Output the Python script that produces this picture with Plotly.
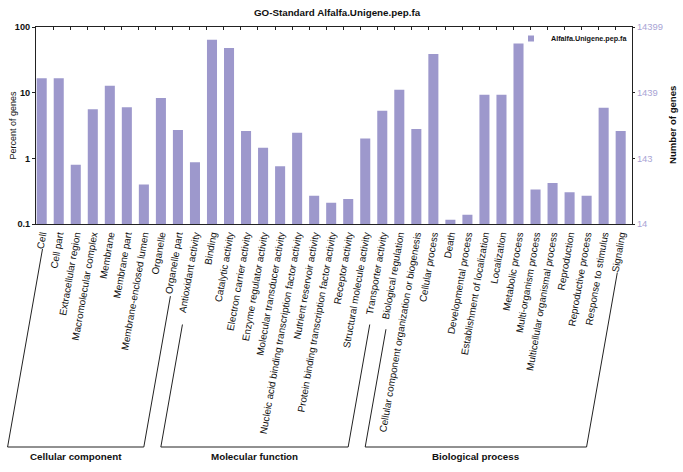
import math
import plotly.graph_objects as go

# ---------------- data ----------------
categories = [
    "Cell", "Cell part", "Extracellular region", "Macromolecular complex", "Membrane",
    "Membrane part", "Membrane-enclosed lumen", "Organelle", "Organelle part",
    "Antioxidant activity", "Binding", "Catalytic activity", "Electron carrier activity",
    "Enzyme regulator activity", "Molecular transducer activity",
    "Nucleic acid binding transcription factor activity", "Nutrient reservoir activity",
    "Protein binding transcription factor activity", "Receptor activity",
    "Structural molecule activity", "Transporter activity",
    "Biological regulation", "Cellular component organization or biogenesis",
    "Cellular process", "Death", "Developmental process", "Establishment of localization",
    "Localization", "Metabolic process", "Multi-organism process",
    "Multicellular organismal process", "Reproduction", "Reproductive process",
    "Response to stimulus", "Signaling",
]
percent_of_genes = [
    16.6, 16.6, 0.80, 5.6, 12.7, 6.0, 0.40, 8.3, 2.7,
    0.87, 64.0, 48.0, 2.6, 1.45, 0.76, 2.45, 0.27, 0.21, 0.24, 2.0, 5.3,
    11.1, 2.8, 38.8, 0.116, 0.138, 9.3, 9.3, 56.0, 0.335, 0.42, 0.305, 0.27, 5.9, 2.6,
]
group_names = ["Cellular component", "Molecular function", "Biological process"]
group_sizes = [9, 12, 14]
series_name = "Alfalfa.Unigene.pep.fa"
total_genes = 14399
percent_ticks = [0.1, 1, 10, 100]
chart_title = "GO-Standard Alfalfa.Unigene.pep.fa"

# ---------------- styling / layout constants ----------------
W, H = 683, 472
ML, MR, MT, MB = 36, 51, 27, 248
PW, PH = W - ML - MR, H - MT - MB
X0, X1 = -0.335, len(categories) - 0.335
BAR_COLOR = "#9d98cc"
RIGHT_COLOR = "#a8a3d4"
FONT = "Arial, Liberation Sans, sans-serif"
TICK_ANGLE = 80  # degrees from horizontal
LABEL_CHAR_PX = 4.8
BRACKET_Y = 447
LABEL_START_Y = H - MB + 4
LABEL_X_OFFSET = 4.5


def xpx(i):
    return ML + (i - X0) / (X1 - X0) * PW


def px_to_paper_x(px):
    return (px - ML) / PW


def py_to_paper_y(py):
    return (H - MB - py) / PH


right_ticks = [p * total_genes / 100 for p in percent_ticks]
right_text = [str(int(v)) for v in right_ticks]

fig = go.Figure()
fig.add_trace(go.Bar(
    x=list(range(len(categories))), y=percent_of_genes,
    marker=dict(color=BAR_COLOR, line=dict(width=0)),
    width=0.59, showlegend=False, name=series_name,
))
# legend entry (no data)
fig.add_trace(go.Scatter(
    x=[None], y=[None], mode="markers", name=series_name,
    marker=dict(symbol="square", size=6, color=BAR_COLOR),
))
# invisible trace to activate the right-hand axis
fig.add_trace(go.Scatter(
    x=[None], y=[None], yaxis="y2", xaxis="x", showlegend=False, hoverinfo="skip",
))
# top tick marks axis
fig.add_trace(go.Scatter(
    x=[None], y=[None], xaxis="x2", showlegend=False, hoverinfo="skip",
))

# ---------------- brackets ----------------
ang = math.radians(90 - TICK_ANGLE)
shapes = []
annotations = []
start = 0
for gname, gsize in zip(group_names, group_sizes):
    a, b = start, start + gsize - 1
    pts = []
    for idx in (a, b):
        sx = xpx(idx) + LABEL_X_OFFSET
        L = LABEL_CHAR_PX * len(categories[idx]) + 2
        top = (sx - math.sin(ang) * L, LABEL_START_Y + math.cos(ang) * L)
        bot = (sx - math.tan(ang) * (BRACKET_Y - LABEL_START_Y), BRACKET_Y)
        pts.append((top, bot))
    (ta, ba), (tb, bb) = pts
    path = "M{},{} L{},{} L{},{} L{},{}".format(
        px_to_paper_x(ta[0]), py_to_paper_y(ta[1]),
        px_to_paper_x(ba[0]), py_to_paper_y(ba[1]),
        px_to_paper_x(bb[0]), py_to_paper_y(bb[1]),
        px_to_paper_x(tb[0]), py_to_paper_y(tb[1]),
    )
    shapes.append(dict(type="path", path=path, xref="paper", yref="paper",
                       line=dict(color="#222222", width=1)))
    annotations.append(dict(
        text=gname, xref="paper", yref="paper",
        x=px_to_paper_x((ba[0] + bb[0]) / 2), y=py_to_paper_y(BRACKET_Y + 9),
        xanchor="center", yanchor="middle", showarrow=False,
        font=dict(family=FONT, size=9.8, color="#111111", weight="bold"),
    ))
    start += gsize

annotations.append(dict(
    text="Percent of genes", xref="paper", yref="paper",
    x=px_to_paper_x(12.5), y=py_to_paper_y(125), textangle=-90,
    xanchor="center", yanchor="middle", showarrow=False,
    font=dict(family=FONT, size=9, color="#111111"),
))
annotations.append(dict(
    text="Number of genes", xref="paper", yref="paper",
    x=px_to_paper_x(672), y=py_to_paper_y(125), textangle=-90,
    xanchor="center", yanchor="middle", showarrow=False,
    font=dict(family=FONT, size=9.6, color="#111111", weight="bold"),
))

fig.update_layout(
    width=W, height=H,
    margin=dict(l=ML, r=MR, t=MT, b=MB, pad=0, autoexpand=False),
    paper_bgcolor="white", plot_bgcolor="white",
    title=dict(text=chart_title, x=px_to_paper_x(337), xref="paper", xanchor="center",
               y=1 - 13 / H, yanchor="middle", automargin=False,
               font=dict(family=FONT, size=9.8, color="#111111", weight="bold")),
    xaxis=dict(
        range=[X0, X1], tickmode="array", tickvals=list(range(len(categories))),
        ticktext=categories, tickangle=-TICK_ANGLE, ticks="",
        tickfont=dict(family=FONT, size=9.9, color="#111111"),
        showline=True, linecolor="#222222", linewidth=1, mirror=True,
        showgrid=False, zeroline=False, automargin=False,
    ),
    xaxis2=dict(
        overlaying="x", side="top", range=[X0, X1], tickmode="array",
        tickvals=[i - 0.3 for i in range(len(categories))], ticks="inside", ticklen=3,
        tickcolor="#222222", showticklabels=False, showline=False, showgrid=False,
        zeroline=False, automargin=False,
    ),
    yaxis=dict(
        type="log", range=[math.log10(percent_ticks[0]), math.log10(percent_ticks[-1])],
        tickmode="array", tickvals=percent_ticks,
        ticktext=[str(v) if v < 1 else str(int(v)) for v in percent_ticks],
        ticks="outside", ticklen=3, tickcolor="#222222",
        tickfont=dict(family=FONT, size=9.2, color="#111111", weight="bold"),
        showline=True, linecolor="#222222", linewidth=1,
        showgrid=False, zeroline=False, automargin=False,
    ),
    yaxis2=dict(
        type="log", overlaying="y", side="right",
        range=[math.log10(right_ticks[0]), math.log10(right_ticks[-1])],
        tickmode="array", tickvals=right_ticks, ticktext=right_text,
        ticks="outside", ticklen=2, tickcolor="#222222",
        tickfont=dict(family=FONT, size=9.4, color=RIGHT_COLOR),
        showline=True, linecolor="#222222", linewidth=1,
        showgrid=False, zeroline=False, automargin=False,
    ),
    legend=dict(
        x=px_to_paper_x(511), y=py_to_paper_y(24), xanchor="left", yanchor="top",
        bgcolor="rgba(0,0,0,0)", borderwidth=0, itemwidth=30,
        font=dict(family=FONT, size=7.2, color="#111111", weight="bold"),
        tracegroupgap=0,
    ),
    shapes=shapes, annotations=annotations,
    bargap=0.41,
)

fig.write_html(
    "out.html",
    config={"displayModeBar": False, "staticPlot": True},
    post_script="document.body.style.margin='0';document.body.style.overflow='hidden';",
)
